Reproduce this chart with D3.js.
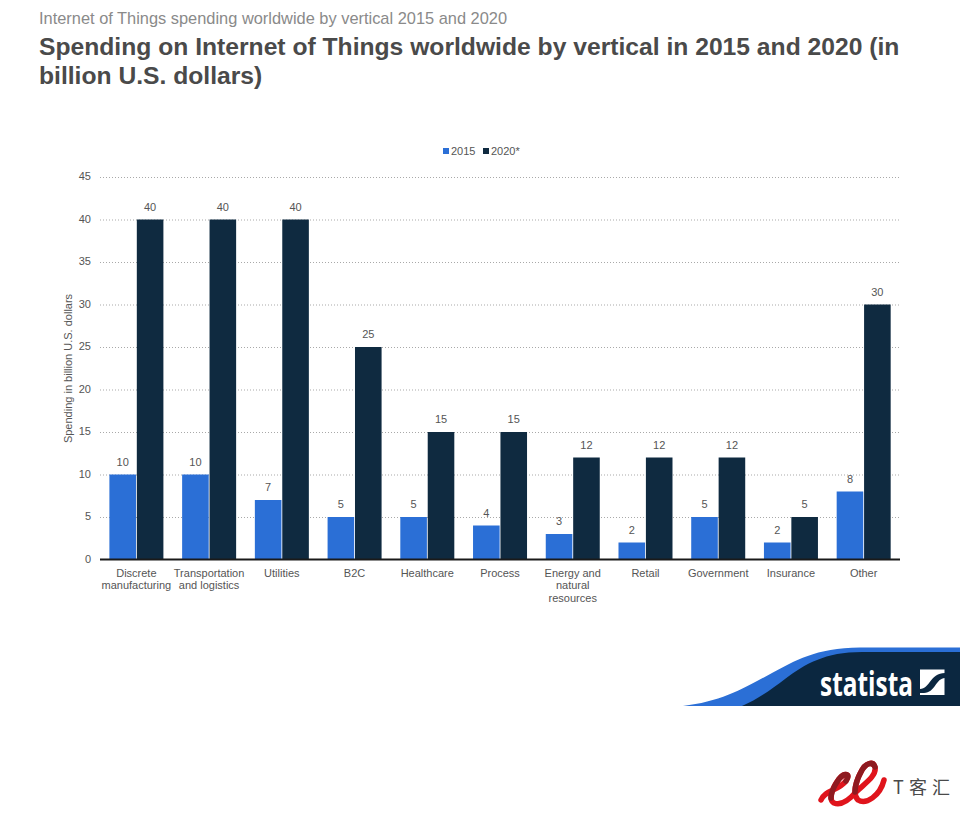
<!DOCTYPE html>
<html>
<head>
<meta charset="utf-8">
<script src="https://cdnjs.cloudflare.com/ajax/libs/d3/7.8.5/d3.min.js"></script>
<style>
  html, body { margin: 0; padding: 0; background: #fff; }
  svg { display: block; font-family: "Liberation Sans", Arial, sans-serif; }
  .tick line { stroke: #a9a9a9; stroke-dasharray: 1 2; }
  .domain { display: none; }
</style>
</head>
<body>
<div id="chart"></div>
<script>
var categories = [
  ["Discrete", "manufacturing"],
  ["Transportation", "and logistics"],
  ["Utilities"],
  ["B2C"],
  ["Healthcare"],
  ["Process"],
  ["Energy and", "natural", "resources"],
  ["Retail"],
  ["Government"],
  ["Insurance"],
  ["Other"]
];
var values2015 = [10, 10, 7, 5, 5, 4, 3, 2, 5, 2, 8];
var values2020 = [40, 40, 40, 25, 15, 15, 12, 12, 12, 5, 30];
var yTicks = [0, 5, 10, 15, 20, 25, 30, 35, 40, 45];
var seriesNames = ["2015", "2020*"];

var blue = "#2b6fd6", navy = "#0f2a40", textGrey = "#555";

var svg = d3.select("#chart").append("svg")
  .attr("width", 960).attr("height", 817);

// headings
svg.append("text").attr("x", 39).attr("y", 24)
  .attr("font-size", 16.4).attr("fill", "#8a8a8a")
  .text("Internet of Things spending worldwide by vertical 2015 and 2020");
svg.append("text").attr("x", 39).attr("y", 55)
  .attr("font-size", 24.66).attr("font-weight", "bold").attr("fill", "#4a4a4a")
  .text("Spending on Internet of Things worldwide by vertical in 2015 and 2020 (in");
svg.append("text").attr("x", 39).attr("y", 84)
  .attr("font-size", 24.66).attr("font-weight", "bold").attr("fill", "#4a4a4a")
  .text("billion U.S. dollars)");

// scales
var x0 = d3.scaleBand().domain(d3.range(categories.length)).range([100, 900]);
var x1 = d3.scaleBand().domain([0, 1]).range([9.4, 63.4]).paddingInner(0.03);
var y = d3.scaleLinear().domain([0, 45]).range([559.5, 177]);

// grid and y labels
var yAxis = svg.append("g").attr("transform", "translate(100,0)")
  .call(d3.axisLeft(y).tickValues(yTicks).tickSize(-800).tickPadding(9));
yAxis.selectAll("text").attr("font-size", 11).attr("fill", textGrey).attr("y", -0.7)
  .attr("font-family", '"Liberation Sans", Arial, sans-serif');
yAxis.selectAll(".tick").filter(function(d) { return d === 0; }).select("line").remove();

svg.append("text")
  .attr("transform", "translate(72,368.5) rotate(-90)")
  .attr("text-anchor", "middle").attr("font-size", 11).attr("fill", textGrey)
  .text("Spending in billion U.S. dollars");

// bars
[values2015, values2020].forEach(function(vals, s) {
  var g = svg.append("g");
  g.selectAll("rect").data(vals).enter().append("rect")
    .attr("x", function(d, i) { return x0(i) + x1(s); })
    .attr("y", function(d) { return y(d); })
    .attr("width", x1.bandwidth())
    .attr("height", function(d) { return y(0) - y(d); })
    .attr("fill", s === 0 ? blue : navy);
  g.selectAll("text").data(vals).enter().append("text")
    .attr("x", function(d, i) { return x0(i) + x1(s) + x1.bandwidth() / 2; })
    .attr("y", function(d) { return y(d) - 9; })
    .attr("text-anchor", "middle").attr("font-size", 11).attr("fill", textGrey)
    .text(function(d) { return d; });
});

// baseline
svg.append("line").attr("x1", 100).attr("x2", 900)
  .attr("y1", y(0)).attr("y2", y(0))
  .attr("stroke", "#1a1a1a").attr("stroke-width", 2);

// category labels
var labels = svg.append("g").selectAll("text").data(categories).enter().append("text")
  .attr("text-anchor", "middle").attr("font-size", 11).attr("fill", textGrey);
labels.each(function(lines, i) {
  d3.select(this).selectAll("tspan").data(lines).enter().append("tspan")
    .attr("x", x0(i) + x0.bandwidth() / 2)
    .attr("y", function(d, k) { return 576.5 + k * 12.6; })
    .text(function(d) { return d; });
});

// legend
var legend = svg.append("g");
[443, 483].forEach(function(lx, i) {
  legend.append("rect").attr("x", lx).attr("y", 148)
    .attr("width", 6).attr("height", 6).attr("fill", i === 0 ? blue : navy);
  legend.append("text").attr("x", lx + 8).attr("y", 154.5)
    .attr("font-size", 11).attr("fill", textGrey).text(seriesNames[i]);
});

// statista banner
var banner = svg.append("g");
banner.append("path")
  .attr("d", "M683,706 C722,702 748,686 772,673 C795,661 815,648 860,647.5 L960,647.5 L960,706 Z")
  .attr("fill", blue);
banner.append("path")
  .attr("d", "M742,706 C758,699 772,689 785,679 C805,664 825,652 862,652 L960,652 L960,706 Z")
  .attr("fill", "#0b2740");
banner.append("text").attr("x", 820).attr("y", 695.5)
  .attr("font-family", '"Open Sans", sans-serif').attr("font-weight", "bold")
  .attr("font-size", 34).attr("fill", "#fff")
  .attr("textLength", 93).attr("lengthAdjust", "spacingAndGlyphs")
  .text("statista");
banner.append("rect").attr("x", 920).attr("y", 669.5).attr("width", 24.5).attr("height", 25.5).attr("fill", "#fff");
banner.append("path")
  .attr("d", "M920,689 C930,689 930,673 945,673 L945,678 C936,678 935,693 924,693 L920,693 Z")
  .attr("fill", "#0b2740");

// watermark
var mark = svg.append("g").attr("fill", "none").attr("stroke-linecap", "round");
mark.append("path")
  .attr("d", "M821,800 C825,790 838,791 846,781 C851,774 845,772 839,779 C832,788 828,800 834,803 C842,806 850,799 856,792 C864,784 877,776 875,767 C873,761 866,763 862,770 C856,780 852,794 858,800 C866,805 880,796 884,780")
  .attr("stroke", "#e0141c").attr("stroke-width", 5.5);
mark.append("path")
  .attr("d", "M846,781 C851,774 845,772 839,779 C834,786 831,793 831,798")
  .attr("stroke", "#8e1a20").attr("stroke-width", 5.5);
mark.append("path")
  .attr("d", "M875,767 C873,761 866,763 862,770 C858,777 855,785 855,792")
  .attr("stroke", "#8e1a20").attr("stroke-width", 5.5);
svg.append("text").attr("x", 893).attr("y", 794)
  .attr("font-family", '"Noto Sans CJK SC", sans-serif').attr("font-size", 18)
  .attr("fill", "#4a4a4a").attr("textLength", 57).attr("lengthAdjust", "spacing")
  .text("T客汇");
</script>
</body>
</html>
